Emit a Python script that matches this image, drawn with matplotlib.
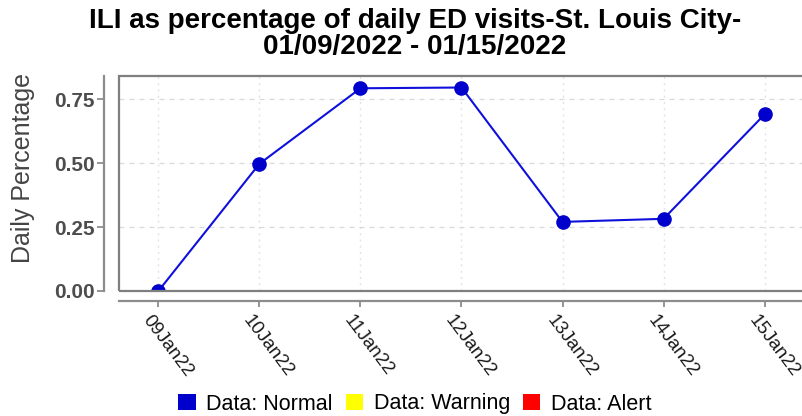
import matplotlib
matplotlib.use('Agg')
import matplotlib.pyplot as plt
import matplotlib.transforms as mtransforms
from matplotlib.patches import Patch, Rectangle

plt.rcParams['font.family'] = ['Liberation Sans', 'DejaVu Sans']

# 資料
dates = ['09Jan22', '10Jan22', '11Jan22', '12Jan22', '13Jan22', '14Jan22', '15Jan22']
pct = [0.0, 0.497, 0.792, 0.795, 0.27, 0.282, 0.69]
y_ticks = [0.00, 0.25, 0.50, 0.75]
legend_labels = ['Data: Normal', 'Data: Warning', 'Data: Alert']
legend_colors = ['#0000cc', '#ffff00', '#ff0000']

line_color = '#1010dd'
axis_grey = '#8c8c8c'

fig = plt.figure(figsize=(8.02, 4.16), dpi=100)
ax = fig.add_axes([119 / 802, 125 / 416, 687 / 802, 215 / 416])

# 外框與偏移的座標軸線（先設定，避免重設刻度）
for s in ['top', 'right']:
    ax.spines[s].set_visible(False)
ax.spines['left'].set_position(('outward', 11))
ax.spines['bottom'].set_position(('outward', 7))
for s in ['left', 'bottom']:
    ax.spines[s].set_color(axis_grey)
    ax.spines[s].set_linewidth(1.6)
ax.add_patch(Rectangle((0, 0), 1, 1, transform=ax.transAxes, fill=False,
                       ec='#7f7f7f', lw=1.6, clip_on=False, zorder=4))

x = list(range(len(dates)))
ax.plot(x, pct, color=line_color, lw=1.5, marker='o', ms=9.5,
        mfc='#0000cc', mec='#0000cc', zorder=3)

ax.set_xlim(-0.39, len(dates) - 1 + 0.41)
ax.set_ylim(0, 0.84)

# 刻度與格線
ax.tick_params(axis='both', color=axis_grey, width=1.3)
ax.tick_params(axis='y', length=5, pad=1.5)
ax.tick_params(axis='x', length=4, pad=4)
ax.set_yticks(y_ticks)
ax.set_yticklabels(['%.2f' % v for v in y_ticks], fontsize=15,
                   fontweight='bold', color='#4d4d4d')
ax.set_xticks(x)
ax.set_xticklabels(dates, rotation=-53, ha='left', va='top',
                   rotation_mode='anchor', fontsize=13.5, color='#1a1a1a')
# x 標籤稍微往左移
shift = mtransforms.ScaledTranslation(-6 / 100, 0, fig.dpi_scale_trans)
for lbl in ax.get_xticklabels():
    lbl.set_transform(lbl.get_transform() + shift)
ax.yaxis.grid(True, ls=(0, (4, 4)), color='#d9d9d9', lw=0.9)
ax.xaxis.grid(True, ls=(0, (1.5, 3)), color='#e3e3e3', lw=1.0)
ax.set_axisbelow(True)

# 標題與軸標籤
fig.text(415 / 802, 1 - 34 / 416,
         'ILI as percentage of daily ED visits-St. Louis City-\n01/09/2022 - 01/15/2022',
         ha='center', va='center', fontsize=20, fontweight='bold',
         linespacing=1.03, color='black')
fig.text(23 / 802, 1 - 168 / 416, 'Daily Percentage', rotation=90,
         ha='center', va='center', fontsize=18, color='#444444')

# 圖例
handles = [Patch(facecolor=c, edgecolor='none') for c in legend_colors]
fig.legend(handles, legend_labels, loc='center', ncol=3, frameon=False,
           bbox_to_anchor=(415 / 802, 1 - 404 / 416), fontsize=15.5,
           handlelength=0.8, handleheight=0.8, handletextpad=0.5,
           columnspacing=0.6)

fig.savefig('out.png', dpi=100)
